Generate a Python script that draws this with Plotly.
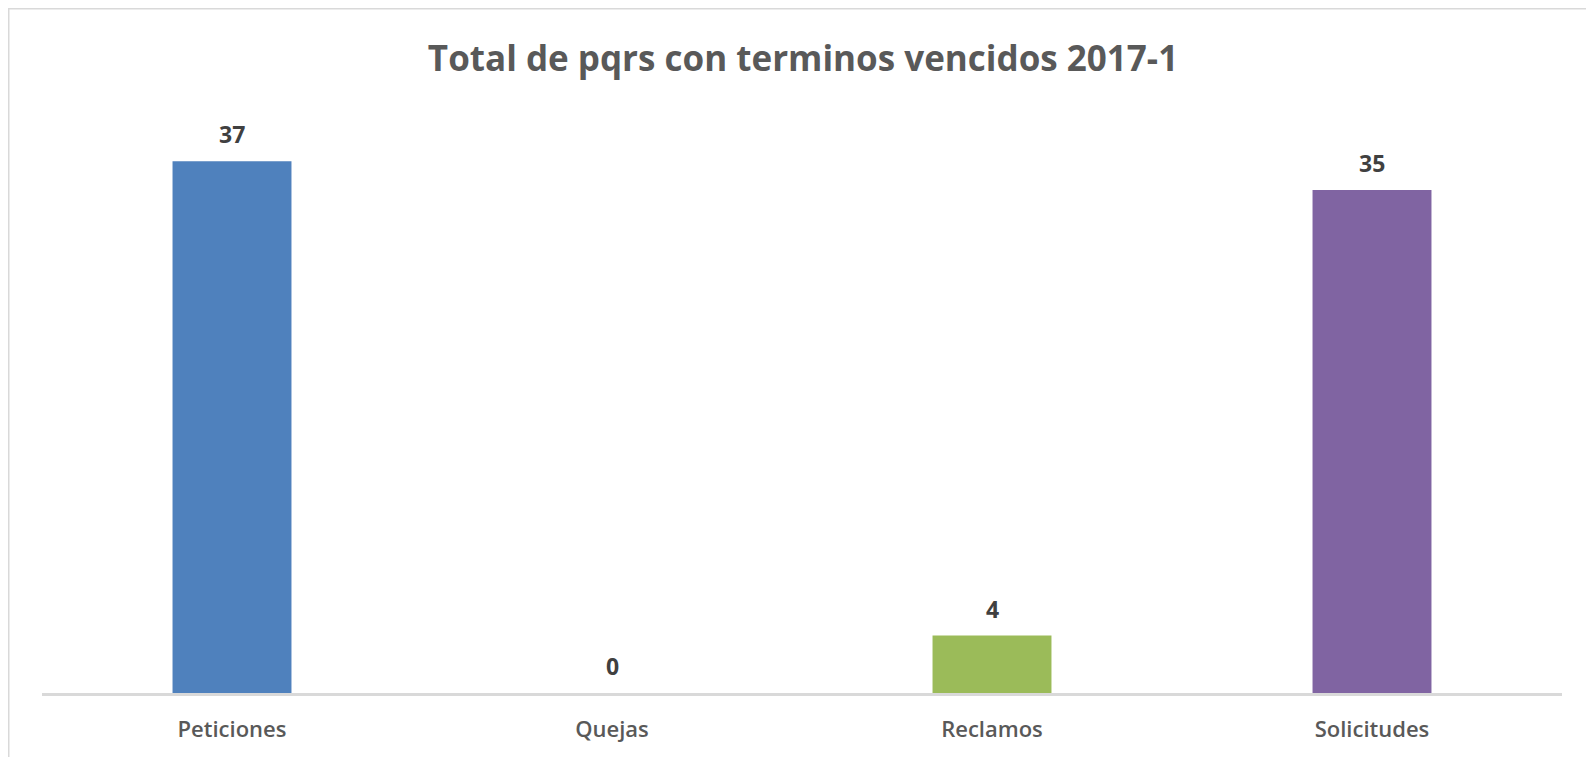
import plotly.graph_objects as go

categories = ["Peticiones", "Quejas", "Reclamos", "Solicitudes"]
values = [37, 0, 4, 35]
colors = ["#4F81BD", "#C0504D", "#9BBB59", "#8064A2"]
title_text = "Total de pqrs con terminos vencidos 2017-1"

W, H = 1594, 757
L, R, T, B = 34, 40, 110, 72

fig = go.Figure()
fig.add_trace(go.Bar(
    x=categories, y=values, marker=dict(color=colors, line=dict(width=0)),
    width=0.313, showlegend=False, hoverinfo="x+y",
))

for c, v in zip(categories, values):
    fig.add_annotation(
        x=c, y=v, xref="x", yref="y", text=str(v), showarrow=False,
        yanchor="bottom", yshift=9,
        font=dict(family="Open Sans", size=23, color="#404040", weight="bold"),
    )

pw = W - L - R
ph = H - T - B
def px2x(px):
    return (px - L) / pw
def py2y(py):
    return (H - B - py) / ph

# outer chart border (top and left visible)
fig.add_shape(type="line", xref="paper", yref="paper",
              x0=px2x(0), x1=px2x(1594), y0=py2y(0), y1=py2y(0),
              line=dict(color="#d9d9d9", width=3), layer="below")
fig.add_shape(type="line", xref="paper", yref="paper",
              x0=px2x(0), x1=px2x(0), y0=py2y(0), y1=py2y(757),
              line=dict(color="#d9d9d9", width=3), layer="below")

fig.update_layout(
    width=W, height=H,
    margin=dict(l=L, r=R, t=T, b=B),
    paper_bgcolor="white", plot_bgcolor="white",
    title=dict(text=title_text, x=795 / W, xanchor="center",
               y=1 - 51 / H, yanchor="middle",
               font=dict(family="Open Sans", size=35, color="#595959", weight="bold")),
    xaxis=dict(showline=True, linecolor="#d9d9d9", linewidth=3, ticks="",
               tickfont=dict(family="Open Sans", size=22, color="#595959", weight=600),
               ticklabelstandoff=15),
    yaxis=dict(range=[0, 40], visible=False, showgrid=False, zeroline=False),
    bargap=0.687,
)

fig.write_html("out.html")
